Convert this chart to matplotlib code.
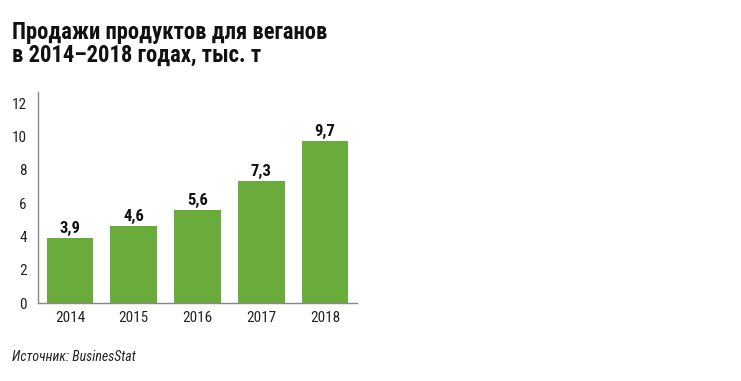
import matplotlib.pyplot as plt
from matplotlib import font_manager

years = ['2014', '2015', '2016', '2017', '2018']
sales = [3.9, 4.6, 5.6, 7.3, 9.7]
value_labels = ['3,9', '4,6', '5,6', '7,3', '9,7']
y_ticks = [0, 2, 4, 6, 8, 10, 12]

# a condensed face with Cyrillic, whichever is installed
names = {f.name for f in font_manager.fontManager.ttflist}
cond = 'DejaVu Sans'
for cand in ['Roboto Condensed', 'PT Sans Narrow', 'Fira Sans Condensed', 'Archivo Narrow', 'Barlow Condensed']:
    if cand in names:
        cond = cand
        break
plt.rcParams['font.family'] = [cond, 'DejaVu Sans']

fig = plt.figure(figsize=(7.41, 3.81), dpi=100)
ax = fig.add_axes([0.0513, 0.2047, 0.4305, 0.5538])

x = range(len(years))
bars = ax.bar(x, sales, width=0.73, color='#6aac3c')
for b, lbl in zip(bars, value_labels):
    ax.text(b.get_x() + b.get_width() / 2, b.get_height() + 0.12, lbl,
            ha='center', va='bottom', fontsize=12, fontweight='bold', color='#111111')

ax.set_xlim(-0.5, len(years) - 0.5)
ax.set_ylim(0, 12.66)
ax.set_yticks(y_ticks)
ax.set_xticks(list(x))
ax.set_xticklabels(years)
ax.tick_params(length=0, labelsize=11, colors='#222222')
ax.tick_params(axis='y', pad=8)
ax.tick_params(axis='x', pad=6)
for s in ['top', 'right']:
    ax.spines[s].set_visible(False)
for s in ['left', 'bottom']:
    ax.spines[s].set_color('#888888')
    ax.spines[s].set_linewidth(1)

fig.text(0.016, 0.945, 'Продажи продуктов для веганов\nв 2014–2018 годах, тыс. т',
         ha='left', va='top', fontsize=16.3, fontweight='bold', color='#111111',
         linespacing=1.0)
fig.text(0.016, 0.062, 'Источник: BusinesStat', ha='left', va='center',
         fontsize=10, style='italic', color='#222222')

fig.savefig('out.png', dpi=100)
